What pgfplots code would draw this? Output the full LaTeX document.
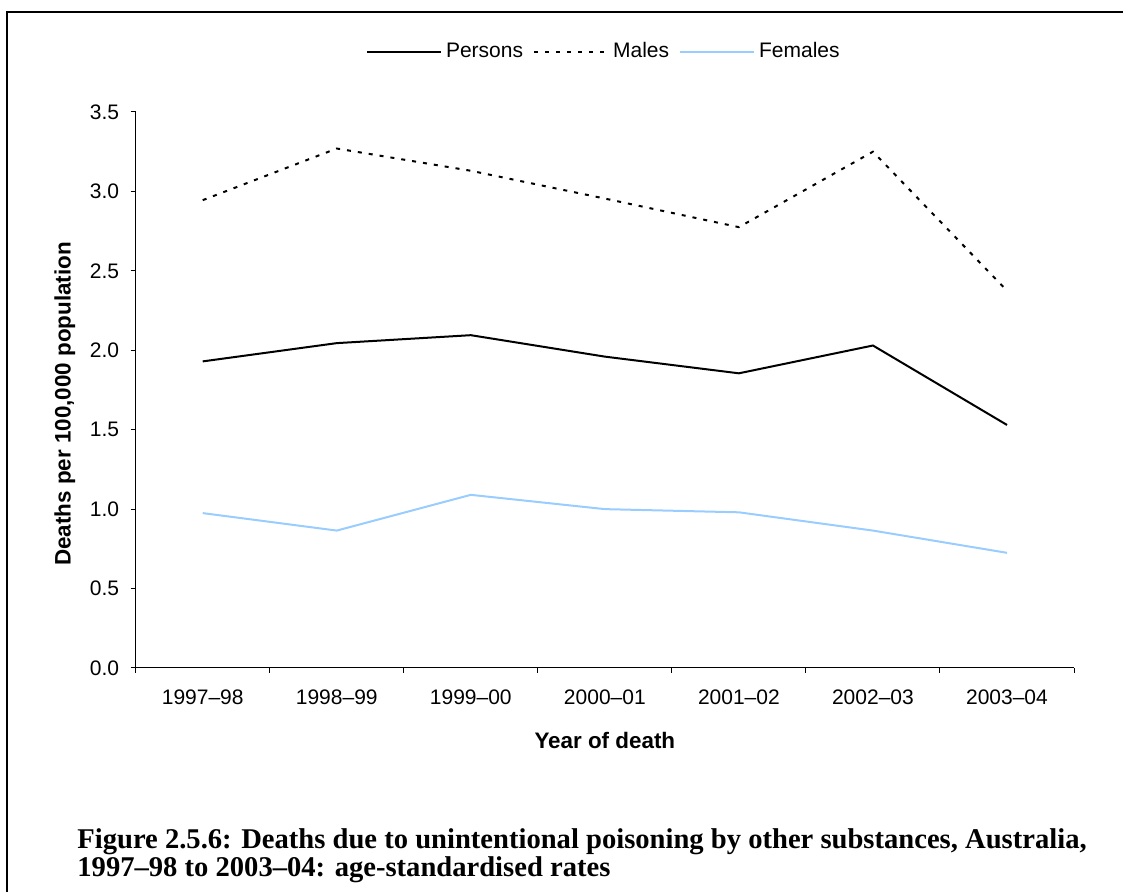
\documentclass[border=0pt]{standalone}
\usepackage{fontspec}
\setmainfont{Liberation Sans}
\newfontfamily\capfont[Ligatures=TeX]{Liberation Serif}
\usepackage{pgfplots}
\pgfplotsset{compat=1.18}
\definecolor{femblue}{RGB}{153,204,255}
\begin{document}
\begin{tikzpicture}
\useasboundingbox (0,0) rectangle (561.5pt,446pt);
\draw[line width=1pt] (3.5pt,-1pt) -- (3.5pt,440pt) -- (563pt,440pt);
\begin{axis}[
  at={(67.85pt,112pt)}, anchor=south west,
  scale only axis, width=469.15pt, height=278pt,
  xmin=-0.5, xmax=6.5, ymin=0, ymax=3.5,
  axis x line=bottom, axis y line=left,
  axis line style={-, line width=0.5pt},
  xtick={0,1,2,3,4,5,6},
  xticklabels={1997--98,1998--99,1999--00,2000--01,2001--02,2002--03,2003--04},
  minor xtick={-0.5,0.5,1.5,2.5,3.5,4.5,5.5,6.5},
  ytick={0,0.5,1,1.5,2,2.5,3,3.5},
  tick align=outside,
  major tick length=2.5pt, minor tick length=2.5pt,
  major x tick style={draw=none},
  tick style={line width=0.5pt, black},
  yticklabel style={/pgf/number format/.cd, fixed, fixed zerofill, precision=1, /tikz/.cd, xshift=-2.3pt},
  xticklabel style={yshift=-5.0pt},
  /pgf/number format/assume math mode=true,
  tick label style={font=\fontsize{10.5}{12}\selectfont},
  xlabel={\bfseries Year of death},
  ylabel={\bfseries Deaths per 100,000 population},
  label style={font=\fontsize{11.2}{13}\selectfont},
  xlabel style={at={(axis description cs:0.5,-0.1295)}, anchor=center},
  ylabel style={at={(axis description cs:-0.0754,0.475)}, anchor=center},
  legend columns=3,
  legend style={draw=none, fill=none, at={(0.5,1.1085)}, anchor=center,
    font=\fontsize{10.5}{12}\selectfont,
    /tikz/every even column/.append style={column sep=3pt}},
  legend image code/.code={\draw[#1] (0pt,0pt) -- (37pt,0pt);},
]
\addplot[black, line width=1pt] coordinates {
 (0,1.93) (1,2.045) (2,2.095) (3,1.96) (4,1.855) (5,2.03) (6,1.53)};
\addlegendentry{Persons}
\addplot[black, line width=1pt, dash pattern=on 2pt off 3.5pt] coordinates {
 (0,2.945) (1,3.27) (2,3.13) (3,2.955) (4,2.775) (5,3.25) (6,2.375)};
\addlegendentry{Males}
\addplot[femblue, line width=1pt] coordinates {
 (0,0.975) (1,0.865) (2,1.09) (3,1.0) (4,0.98) (5,0.865) (6,0.725)};
\addlegendentry{Females}
\end{axis}
\node[anchor=base west, inner sep=0pt, font=\capfont\bfseries\fontsize{14.3}{15}\selectfont] at (38.5pt,21.5pt) {Figure 2.5.6: Deaths due to unintentional poisoning by other substances, Australia,};
\node[anchor=base west, inner sep=0pt, font=\capfont\bfseries\fontsize{14.3}{15}\selectfont] at (38.5pt,7.5pt) {1997–98 to 2003–04: age-standardised rates};
\end{tikzpicture}
\end{document}
